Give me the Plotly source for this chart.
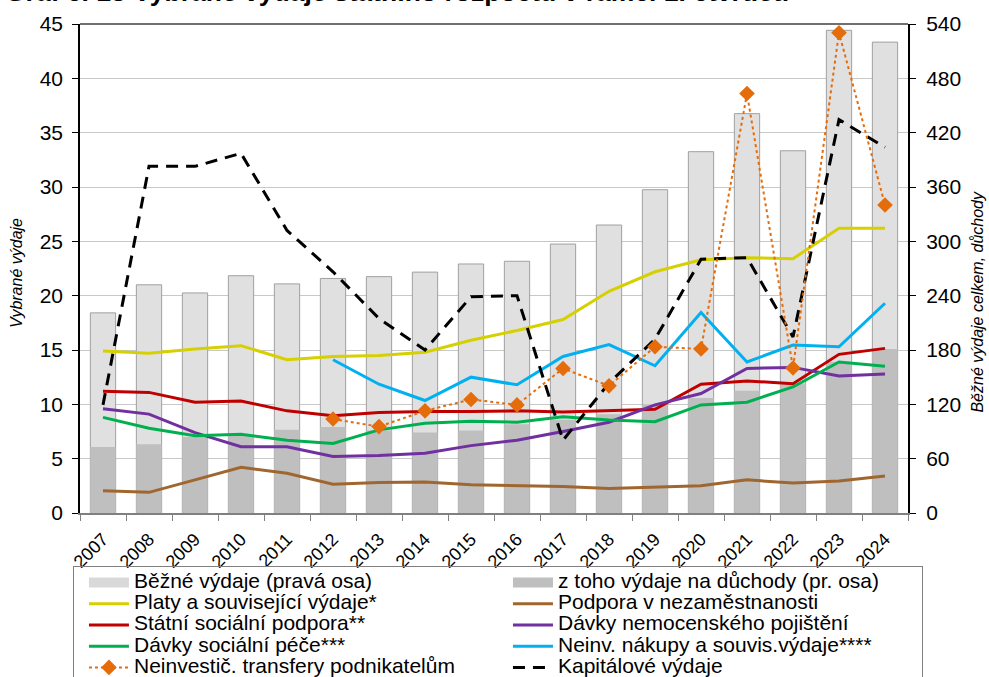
import plotly.graph_objects as go

years = [str(y) for y in range(2007, 2025)]

# right axis (bars)
bezne_vydaje = [221, 252, 243, 262, 253, 259, 261, 266, 275, 278, 297, 318, 357, 399, 441, 400, 533, 520]
duchody = [73, 76, 84, 86, 92, 95, 91, 89, 91, 98, 103, 109, 120, 127, 135, 143, 167, 181]

# left axis (lines)
platy = [14.9, 14.7, 15.1, 15.4, 14.1, 14.4, 14.5, 14.8, 15.9, 16.8, 17.8, 20.4, 22.2, 23.3, 23.5, 23.4, 26.2, 26.2]
podpora_nezam = [2.05, 1.9, 3.05, 4.2, 3.65, 2.65, 2.8, 2.85, 2.6, 2.5, 2.45, 2.25, 2.35, 2.5, 3.05, 2.75, 2.95, 3.4]
statni_soc = [11.2, 11.1, 10.2, 10.3, 9.4, 8.95, 9.25, 9.35, 9.35, 9.4, 9.3, 9.45, 9.55, 11.85, 12.15, 11.9, 14.6, 15.15]
nemocenske = [9.6, 9.1, 7.4, 6.1, 6.1, 5.2, 5.3, 5.5, 6.2, 6.7, 7.5, 8.35, 9.95, 11.0, 13.3, 13.4, 12.6, 12.8]
soc_pece = [8.8, 7.8, 7.1, 7.25, 6.7, 6.4, 7.65, 8.25, 8.45, 8.35, 8.85, 8.55, 8.4, 9.95, 10.2, 11.6, 13.9, 13.5]
neinv_nakupy = [None, None, None, None, None, 14.1, 11.85, 10.35, 12.5, 11.8, 14.4, 15.5, 13.55, 18.45, 13.9, 15.45, 15.3, 19.3]
transfery = [None, None, None, None, None, 8.65, 7.95, 9.4, 10.45, 9.95, 13.3, 11.7, 15.3, 15.1, 38.6, 13.35, 44.2, 28.35]
kapitalove = [9.95, 31.9, 31.9, 33.1, 26.0, 22.2, 17.9, 15.0, 19.9, 20.0, 6.7, 11.95, 16.0, 23.35, 23.5, 16.2, 36.2, 33.65]

names = {
    "bezne": "Běžné výdaje (pravá osa)",
    "duchody": "z toho výdaje na důchody (pr. osa)",
    "platy": "Platy a související výdaje*",
    "podpora": "Podpora v nezaměstnanosti",
    "statni": "Státní sociální podpora**",
    "nemoc": "Dávky nemocenského pojištění",
    "pece": "Dávky sociální péče***",
    "nakupy": "Neinv. nákupy a souvis.výdaje****",
    "transfery": "Neinvestič. transfery podnikatelům",
    "kapital": "Kapitálové výdaje",
}

FONT = "Liberation Sans, Arial, sans-serif"


def lg(name):
    return '<span style="font-size:21px">' + name + "</span>"


fig = go.Figure()

# bars on primary (right-side) axis
fig.add_trace(go.Bar(x=years, y=bezne_vydaje, width=0.55, showlegend=False,
                     marker=dict(color="#e0e0e0", line=dict(color="#a0a0a0", width=1)),
                     name=names["bezne"]))
fig.add_trace(go.Bar(x=years, y=duchody, width=0.55, showlegend=False,
                     marker=dict(color="#bfbfbf", line=dict(width=0)),
                     name=names["duchody"]))

# legend entries for bars
fig.add_trace(go.Scatter(x=[None], y=[None], mode="lines", name=lg(names["bezne"]),
                         line=dict(color="#d9d9d9", width=10), legendrank=1))
fig.add_trace(go.Scatter(x=[None], y=[None], mode="lines", name=lg(names["duchody"]),
                         line=dict(color="#bfbfbf", width=10), legendrank=2))

series = [
    ("platy", platy, "#d6d000", 3),
    ("podpora", podpora_nezam, "#a0662f", 4),
    ("statni", statni_soc, "#c00000", 5),
    ("nemoc", nemocenske, "#7030a0", 6),
    ("pece", soc_pece, "#00b050", 7),
    ("nakupy", neinv_nakupy, "#00b0f0", 8),
]
for key, vals, col, rank in series:
    fig.add_trace(go.Scatter(x=years, y=vals, yaxis="y2", mode="lines", name=lg(names[key]),
                             line=dict(color=col, width=3), legendrank=rank, connectgaps=False))

fig.add_trace(go.Scatter(x=years, y=kapitalove, yaxis="y2", mode="lines", name=lg(names["kapital"]),
                         line=dict(color="#000000", width=3, dash="12px,8px"), legendrank=10))
fig.add_trace(go.Scatter(x=years, y=transfery, yaxis="y2", mode="lines+markers",
                         name=lg(names["transfery"]),
                         line=dict(color="#e46c0a", width=2, dash="dot"),
                         marker=dict(symbol="diamond", size=12, color="#e46c0a"), legendrank=9))

fig.update_layout(
    width=989, height=677,
    margin=dict(l=80, r=81, t=24, b=164, autoexpand=False),
    paper_bgcolor="white", plot_bgcolor="white",
    font=dict(family=FONT, color="black", size=18),
    barmode="overlay",
    showlegend=True,
    legend=dict(orientation="h", x=-0.0085, xanchor="left", y=-0.1084, yanchor="top",
                bordercolor="#808080", borderwidth=1, bgcolor="rgba(255,255,255,0)",
                font=dict(size=14, family=FONT),
                entrywidth=359, entrywidthmode="pixels", itemwidth=40, indentation=10,
                tracegroupgap=0, traceorder="normal"),
    xaxis=dict(type="category", tickson="boundaries", ticks="outside", ticklen=6,
               tickcolor="#808080", tickangle=-45, showline=True, linecolor="#808080",
               linewidth=1.5, showgrid=False, tickfont=dict(size=18), ticklabelstandoff=7,
               range=[-0.5, 17.5]),
    yaxis=dict(range=[0, 540], tickvals=list(range(0, 541, 60)), side="right",
               showgrid=True, gridcolor="#c8c8c8", gridwidth=1, showline=True,
               linecolor="black", linewidth=2, ticks="outside", ticklen=6, tickcolor="black",
               zeroline=False, tickfont=dict(size=21), ticklabelstandoff=6),
    yaxis2=dict(range=[0, 45], tickvals=list(range(0, 46, 5)), side="left", overlaying="y",
                showgrid=False, showline=True, linecolor="black", linewidth=1.5,
                ticks="outside", ticklen=6, tickcolor="black", zeroline=False,
                tickfont=dict(size=21), ticklabelstandoff=5),
    shapes=[dict(type="line", xref="paper", yref="paper", x0=0, x1=1, y0=1, y1=1,
                 line=dict(color="#404040", width=1.5))],
    annotations=[
        dict(text="<b>Graf č. 13 Vybrané výdaje státního rozpočtu v rámci 1. čtvrtletí</b>",
             xref="paper", yref="paper", x=-0.093, y=1.031, xanchor="left", yanchor="bottom",
             showarrow=False, font=dict(size=26.5, family=FONT)),
        dict(text="<i>Vybrané výdaje</i>", xref="paper", yref="paper", x=-0.0761, y=0.4908,
             textangle=-90, showarrow=False, font=dict(size=16, family=FONT),
             xanchor="center", yanchor="middle"),
        dict(text="<i>Běžné výdaje celkem, důchody</i>", xref="paper", yref="paper", x=1.084,
             y=0.4315, textangle=-90, showarrow=False, font=dict(size=16, family=FONT),
             xanchor="center", yanchor="middle"),
    ],
)

fig.write_html("out.html")
